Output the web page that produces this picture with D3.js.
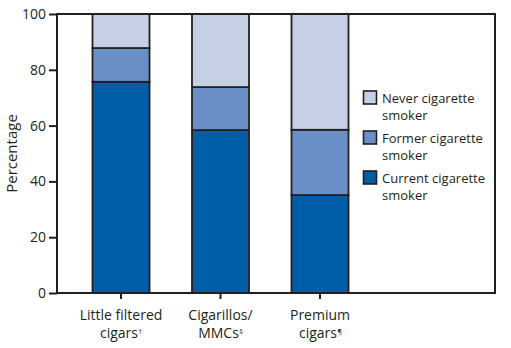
<!DOCTYPE html>
<html><head><meta charset="utf-8">
<script src="https://cdn.jsdelivr.net/npm/d3@7"></script>
<style>body{margin:0;background:#fff}svg{display:block}text{font-family:"Open Sans","Noto Sans",sans-serif;fill:#231f20}</style>
</head><body><svg id="c" width="511" height="348"></svg>
<script>
const categories = ["Little filtered cigars", "Cigarillos/MMCs", "Premium cigars"];
const catLine1 = ["Little filtered", "Cigarillos/", "Premium"];
const catLine2 = ["cigars", "MMCs", "cigars"];
const catMark = ["†", "§", "¶"];
const current = [75.7, 58.4, 35.1];
const former = [12.1, 15.4, 23.4];
const never = [12.2, 26.2, 41.5];
const yTicks = [0, 20, 40, 60, 80, 100];
const seriesNames = ["Never cigarette smoker", "Former cigarette smoker", "Current cigarette smoker"];
const legendLine1 = ["Never cigarette", "Former cigarette", "Current cigarette"];
const colors = {current: "#005ea8", former: "#6a8fc7", never: "#c5d0e7"};

const svg = d3.select("#c");
const m = {l: 57, r: 495, t: 14, b: 293};
const x = d3.scaleBand().domain(categories).range([71.25, 369.75]).paddingInner(0.427).paddingOuter(0.2135);
const y = d3.scaleLinear().domain([0, 100]).range([m.b, m.t]);

const data = categories.map((c, i) => ({c, current: current[i], former: former[i], never: never[i]}));
const stack = d3.stack().keys(["current", "former", "never"])(data);

svg.append("g").selectAll("g").data(stack).join("g")
  .attr("fill", d => colors[d.key])
  .selectAll("rect").data(d => d).join("rect")
  .attr("x", d => x(d.data.c)).attr("width", x.bandwidth())
  .attr("y", d => y(d[1])).attr("height", d => y(d[0]) - y(d[1]))
  .attr("stroke", "#231f20").attr("stroke-width", 1.8);

// frame
svg.append("rect").attr("x", m.l).attr("y", m.t).attr("width", m.r - m.l).attr("height", m.b - m.t)
  .attr("fill", "none").attr("stroke", "#231f20").attr("stroke-width", 2);

// y axis
const ya = svg.append("g").attr("transform", `translate(${m.l},0)`)
  .call(d3.axisLeft(y).tickValues(yTicks).tickSize(8).tickPadding(3));
ya.select(".domain").remove();
ya.selectAll("line").attr("stroke", "#231f20").attr("stroke-width", 2);
ya.selectAll("text").style("font-size", "14px").attr("fill", "#231f20");

// x axis ticks
const xa = svg.append("g").attr("transform", `translate(0,${m.b})`)
  .call(d3.axisBottom(x).tickSize(6).tickFormat(""));
xa.select(".domain").remove();
xa.selectAll("line").attr("stroke", "#231f20").attr("stroke-width", 2);

categories.forEach((c, i) => {
  const cx = x(c) + x.bandwidth() / 2;
  svg.append("text").attr("x", cx).attr("y", 320).attr("text-anchor", "middle")
    .style("font-size", "14px").text(catLine1[i]);
  const t2 = svg.append("text").attr("x", cx - 2).attr("y", 337.5).attr("text-anchor", "middle")
    .style("font-size", "14px").text(catLine2[i]);
  const w = t2.node().getComputedTextLength();
  svg.append("text").attr("x", cx - 2 + w / 2 + 0.5).attr("y", 333.5).style("font-size", "7px").text(catMark[i]);
});

svg.append("text").attr("transform", `translate(17,${(m.t + m.b) / 2}) rotate(-90)`)
  .attr("text-anchor", "middle").style("font-size", "15px").text("Percentage");

// legend
const lg = svg.append("g");
const keys = ["never", "former", "current"];
keys.forEach((k, i) => {
  const yy = 91 + i * 40;
  lg.append("rect").attr("x", 363.5).attr("y", yy).attr("width", 13).attr("height", 13)
    .attr("fill", colors[k]).attr("stroke", "#231f20").attr("stroke-width", 1.6);
  lg.append("text").attr("x", 382).attr("y", yy + 12).style("font-size", "13px").text(legendLine1[i]);
  lg.append("text").attr("x", 382).attr("y", yy + 28.5).style("font-size", "13px").text("smoker");
});
</script></body></html>
